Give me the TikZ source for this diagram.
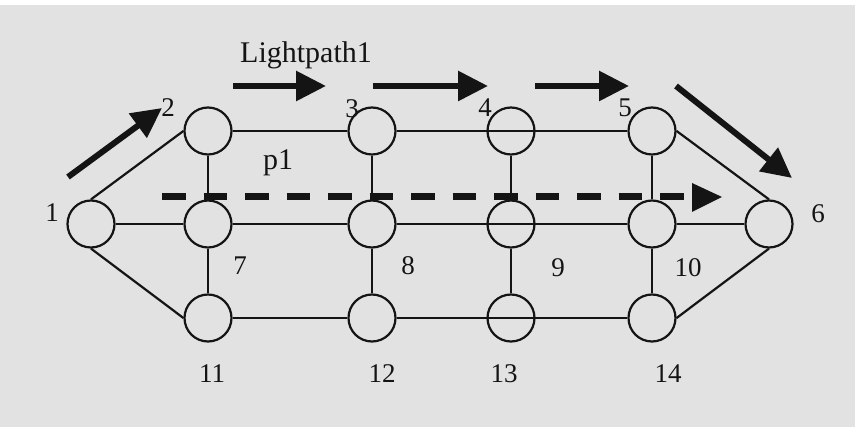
\documentclass[tikz,border=0pt]{standalone}
\usepackage{fontspec}
\setmainfont{Liberation Serif}
\usetikzlibrary{arrows.meta}
\definecolor{paper}{RGB}{226,226,226}
\definecolor{ink}{RGB}{20,20,20}
\tikzset{
  netnode/.style={circle,draw=ink,line width=2.2pt,minimum size=47pt,inner sep=0pt},
  link/.style={draw=ink,line width=2.2pt},
  bigarrow/.style={draw=ink,line width=6pt,-{Triangle[length=30pt,width=29pt]}},
  lbl/.style={anchor=base,inner sep=0pt,font=\fontsize{27}{27}\selectfont,text=ink},
  biglbl/.style={anchor=base,inner sep=0pt,font=\fontsize{30}{30}\selectfont,text=ink},
}
\begin{document}
\begin{tikzpicture}[x=1pt,y=-1pt]
\useasboundingbox (0,0) rectangle (855,427);
\fill[white] (0,0) rectangle (855,427);
\fill[paper] (0,5) rectangle (855,427);
% nodes
\node[netnode] (n1) at (91,224) {};
\node[netnode] (n2) at (208,131) {};
\node[netnode] (n3) at (372,131) {};
\node[netnode] (n4) at (511,131) {};
\node[netnode] (n5) at (652,131) {};
\node[netnode] (n6) at (769,224) {};
\node[netnode] (n7) at (208,224) {};
\node[netnode] (n8) at (372,224) {};
\node[netnode] (n9) at (511,224) {};
\node[netnode] (n10) at (652,224) {};
\node[netnode] (n11) at (208,318) {};
\node[netnode] (n12) at (372,318) {};
\node[netnode] (n13) at (511,318) {};
\node[netnode] (n14) at (652,318) {};
% links
\draw[link] (n1.north) -- (n2.west);
\draw[link] (n1.south) -- (n11.west);
\draw[link] (n5.east) -- (n6.north);
\draw[link] (n14.east) -- (n6.south);
\draw[link] (n2) -- (n3);
\draw[link] (n3) -- (n5);
\draw[link] (n1) -- (n7);
\draw[link] (n7) -- (n8);
\draw[link] (n8) -- (n10);
\draw[link] (n10) -- (n6);
\draw[link] (n11) -- (n12);
\draw[link] (n12) -- (n14);
\draw[link] (n2) -- (n7);
\draw[link] (n3) -- (n8);
\draw[link] (n4) -- (n9);
\draw[link] (n5) -- (n10);
\draw[link] (n7) -- (n11);
\draw[link] (n8) -- (n12);
\draw[link] (n9) -- (n13);
\draw[link] (n10) -- (n14);
% labels
\node[lbl] (l1) at (52,222) {1};
\node[lbl] (l2) at (168,117) {2};
\node[lbl] (l3) at (352,118) {3};
\node[lbl] (l4) at (485,117) {4};
\node[lbl] (l5) at (625,117) {5};
\node[lbl] (l6) at (818,223) {6};
\node[lbl] (l7) at (240,275) {7};
\node[lbl] (l8) at (408,275) {8};
\node[lbl] (l9) at (558,277) {9};
\node[lbl] (l10) at (688,277) {10};
\node[lbl] (l11) at (212,383) {11};
\node[lbl] (l12) at (382,383) {12};
\node[lbl] (l13) at (504,383) {13};
\node[lbl] (l14) at (668,383) {14};
\node[biglbl] (p1) at (278,170) {p1};
\node[biglbl] (lp) at (306,63) {Lightpath1};
% thick arrows
\coordinate (a1s) at (68,177); \coordinate (a1e) at (162,108);
\coordinate (a2s) at (233,86); \coordinate (a2e) at (326,86);
\coordinate (a3s) at (373,86); \coordinate (a3e) at (488,86);
\coordinate (a4s) at (535,86); \coordinate (a4e) at (629,86);
\coordinate (a5s) at (676,86); \coordinate (a5e) at (792,178);
\draw[bigarrow] (a1s) -- (a1e);
\draw[bigarrow] (a2s) -- (a2e);
\draw[bigarrow] (a3s) -- (a3e);
\draw[bigarrow] (a4s) -- (a4e);
\draw[bigarrow] (a5s) -- (a5e);
% dashed path
\coordinate (ds) at (162,197); \coordinate (de) at (684,197);
\draw[draw=ink,line width=7pt,dash pattern=on 23.5pt off 18pt] (ds) -- (de);
\coordinate (t1) at (692,183); \coordinate (t2) at (722,197); \coordinate (t3) at (692,212);
\fill[ink] (t1) -- (t2) -- (t3) -- cycle;
\end{tikzpicture}
\end{document}
